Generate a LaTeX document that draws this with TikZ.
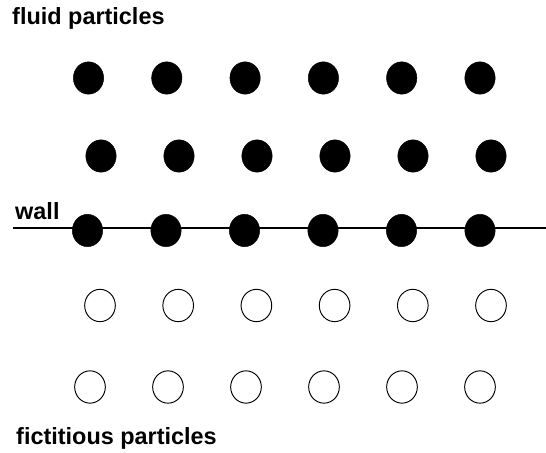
\documentclass[tikz,border=0pt]{standalone}
\usepackage{fontspec}
\setmainfont{Liberation Sans}
\usepackage{tikz}
\usetikzlibrary{positioning,shapes.geometric}

\begin{document}
\begin{tikzpicture}[x=0.03cm,y=-0.03cm,
  fluid/.style={ellipse,fill=black,draw=black,line width=0.4pt,inner sep=0pt,
    minimum width=0.91cm,minimum height=0.97cm},
  ghost/.style={ellipse,fill=white,draw=black,line width=0.8pt,inner sep=0pt,
    minimum width=0.92cm,minimum height=0.97cm},
  label/.style={anchor=base west,inner sep=0pt,font=\fontsize{20}{24}\selectfont\bfseries},
  wallline/.style={line width=2.2pt,draw=black}
]
\useasboundingbox (0,0) rectangle (546,453);
\node[label] (fluidtxt) at (12,25) {fluid particles};
\node[label] (walltxt) at (15,220) {wall};
\node[label] (fictxt) at (16,445) {fictitious particles};
\coordinate (wallL) at (13,228);
\coordinate (wallR) at (546,228);
\draw[wallline] (wallL) -- (wallR);
% particles, left to right
\foreach \i in {0,...,5} {
  \node[fluid] (top\i) at (88.5+78.3*\i,78) {};
  \node[fluid] (mid\i) at (101+78*\i,156) {};
  \node[fluid] (wall\i) at (87.5+78.5*\i,230.5) {};
  \node[ghost] (gone\i) at (100+78.2*\i,305.5) {};
  \node[ghost] (gtwo\i) at (90+78*\i,387) {};
}
\end{tikzpicture}
\end{document}
